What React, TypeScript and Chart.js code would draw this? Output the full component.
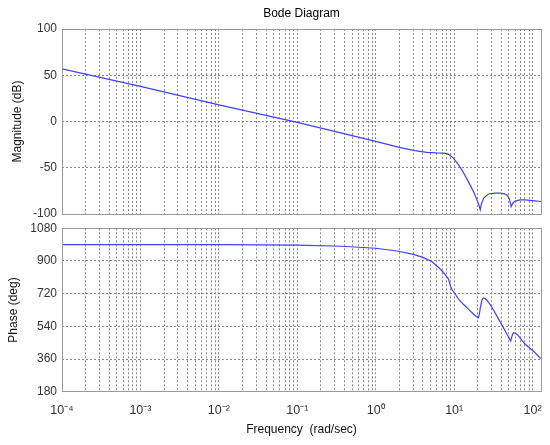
import { useEffect, useRef } from 'react';
import { Chart, registerables } from 'chart.js';

Chart.register(...registerables);

// ---- data ----
const magFreq = [0.0001, 0.001, 0.01, 0.1, 1, 2.0, 3.16, 4.47, 6.03, 7.59, 8.51, 9.77, 11.2, 12.6, 15.8, 17.8, 19.5, 20.7, 21.5, 22.1, 23.7, 27.4, 33.1, 38.6, 43.7, 47.9, 50.7, 53.3, 56.2, 60.0, 69.2, 79.4, 100, 128];
const magDb = [57, 38, 18, -1, -21.5, -28, -31.5, -33.3, -34, -34.2, -35.5, -39.6, -46, -52.5, -68, -76.5, -84.6, -90.5, -95.5, -90, -82.7, -78.4, -77.5, -77.3, -78.2, -80, -84, -92, -88, -86, -84.8, -84.8, -85.5, -86.5];

const phaseFreq = [0.0001, 0.01, 0.1, 0.37, 1, 1.86, 3.02, 3.98, 5.19, 6.03, 6.97, 7.76, 8.47, 8.91, 9.44, 10.3, 11.35, 13.2, 15.2, 17.8, 19.5, 20.4, 21.0, 21.6, 22.6, 23.6, 24.5, 26.2, 28.8, 31.6, 35.5, 40.6, 46.0, 52.5, 55.0, 57.0, 60.3, 64.1, 72.4, 80.5, 102.8, 127.6];
const phaseDeg = [990, 990, 987, 981, 970, 955, 936, 920, 897, 872, 846, 822, 800, 765, 740, 718, 690, 660, 635, 605, 592, 588, 610, 645, 685, 697, 695, 684, 660, 631, 592, 548, 505, 460, 490, 505, 502, 494, 465, 441, 403, 362];

const xDecades = [1e-4, 1e-3, 1e-2, 1e-1, 1, 10, 100];
const xTickLabels = ['10⁻⁴', '10⁻³', '10⁻²', '10⁻¹', '10⁰', '10¹', '10²'];
const xMinorMultipliers = [1, 2, 3, 4, 5, 6, 7, 8, 9];
const X_MIN = 1e-4;
const X_MAX = 128;

const magTicks = [-100, -50, 0, 50, 100];
const phaseTicks = [180, 360, 540, 720, 900, 1080];

const FONT = '"Liberation Sans", Arial, Helvetica, sans-serif';
const LINE_COLOR = '#4040ff';
const GRID_COLOR = '#8a8a8a';
const FRAME_COLOR = '#9a9a9a';

const xGridValues: number[] = [];
xDecades.forEach((d) => xMinorMultipliers.forEach((m) => {
  const v = d * m;
  if (v >= X_MIN * 0.999999 && v <= X_MAX) xGridValues.push(v);
}));

const framePlugin = {
  id: 'frame',
  afterDraw(chart: any) {
    const { ctx, chartArea: a } = chart;
    ctx.save();
    ctx.strokeStyle = FRAME_COLOR;
    ctx.lineWidth = 1;
    ctx.strokeRect(Math.round(a.left) + 0.5, Math.round(a.top) + 0.5, Math.round(a.right - a.left), Math.round(a.bottom - a.top));
    ctx.restore();
  },
};

function xScale(showLabels: boolean, height: number) {
  return {
    type: 'logarithmic',
    min: X_MIN,
    max: X_MAX,
    bounds: 'data',
    afterBuildTicks: (s: any) => { s.ticks = xGridValues.map((v) => ({ value: v })); },
    afterFit: (s: any) => { s.height = height; s.paddingLeft = 0; s.paddingRight = 0; },
    grid: { color: GRID_COLOR, lineWidth: 1, drawTicks: false },
    border: { display: false, dash: [2, 2] },
    ticks: {
      display: showLabels,
      autoSkip: false,
      maxRotation: 0,
      minRotation: 0,
      padding: 11,
      color: '#333',
      font: { family: FONT, size: 12.5 },
      callback: (v: number) => {
        const k = xDecades.findIndex((d) => Math.abs(v / d - 1) < 1e-6);
        return k >= 0 ? xTickLabels[k] : '';
      },
    },
    title: showLabels
      ? { display: true, text: 'Frequency  (rad/sec)', color: '#111', font: { family: FONT, size: 12 }, padding: { top: 0, bottom: 7.8 } }
      : { display: false },
  };
}

function yScale(ticks: number[], label: string, titlePad: number) {
  return {
    type: 'linear',
    min: ticks[0],
    max: ticks[ticks.length - 1],
    afterBuildTicks: (s: any) => { s.ticks = ticks.map((v) => ({ value: v })); },
    afterFit: (s: any) => { s.width = 62; s.paddingTop = 0; s.paddingBottom = 0; },
    grid: { color: GRID_COLOR, lineWidth: 1, drawTicks: false },
    border: { display: false, dash: [2, 2] },
    ticks: {
      autoSkip: false,
      padding: 5,
      color: '#333',
      font: { family: FONT, size: 12 },
      callback: (v: number) => String(v),
    },
    title: { display: true, text: label, color: '#111', font: { family: FONT, size: 12 }, padding: { top: titlePad, bottom: 0 } },
  };
}

export default function App() {
  const topRef = useRef<HTMLCanvasElement | null>(null);
  const botRef = useRef<HTMLCanvasElement | null>(null);

  useEffect(() => {
    const magData = magFreq.map((f, i) => ({ x: f, y: magDb[i] }));
    const phaseData = phaseFreq.map((f, i) => ({ x: f, y: phaseDeg[i] }));

    const top = new Chart(topRef.current as HTMLCanvasElement, {
      type: 'line',
      data: { datasets: [{ data: magData, borderColor: LINE_COLOR, borderWidth: 1.2, pointRadius: 0, tension: 0, fill: false }] },
      options: {
        responsive: false,
        animation: false,
        layout: { padding: { left: 0, right: 9, top: 0, bottom: 231 } },
        plugins: {
          legend: { display: false },
          tooltip: { enabled: false },
          title: {
            display: true,
            text: 'Bode Diagram',
            fullSize: false,
            color: '#000',
            font: { family: FONT, size: 12, weight: 'normal' },
            padding: { top: 6, bottom: 8.6 },
          },
        },
        scales: {
          x: xScale(false, 0),
          y: yScale(magTicks, 'Magnitude (dB)', 10.3),
        },
      } as any,
      plugins: [framePlugin],
    });

    const bot = new Chart(botRef.current as HTMLCanvasElement, {
      type: 'line',
      data: { datasets: [{ data: phaseData, borderColor: LINE_COLOR, borderWidth: 1.2, pointRadius: 0, tension: 0, fill: false }] },
      options: {
        responsive: false,
        animation: false,
        layout: { padding: { left: 0, right: 9, top: 228.3, bottom: 0 } },
        plugins: { legend: { display: false }, tooltip: { enabled: false } },
        scales: {
          x: xScale(true, 53.3),
          y: yScale(phaseTicks, 'Phase (deg)', 6.8),
        },
      } as any,
      plugins: [framePlugin],
    });

    return () => { top.destroy(); bot.destroy(); };
  }, []);

  const canvasStyle: any = { position: 'absolute', left: 0, top: 0, width: 550, height: 445 };
  return (
    <div style={{ position: 'absolute', left: 0, top: 0, width: 550, height: 445, background: '#fff' }}>
      <canvas ref={topRef} width={550} height={445} style={canvasStyle} />
      <canvas ref={botRef} width={550} height={445} style={canvasStyle} />
    </div>
  );
}
